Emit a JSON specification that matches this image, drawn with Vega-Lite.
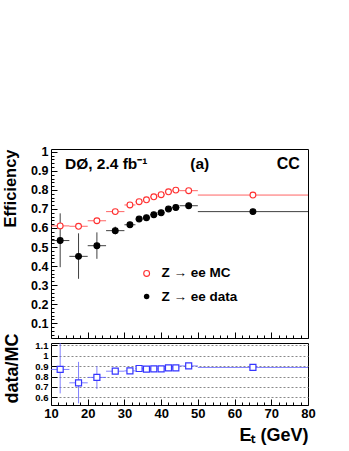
{
  "$schema": "https://vega.github.io/schema/vega-lite/v6.json",
  "padding": {"left": 2, "top": 145, "right": 0, "bottom": 0},
  "background": "white",
  "config": {
    "font": "Liberation Sans",
    "view": {"stroke": "black", "strokeWidth": 1},
    "axis": {"domain": false, "grid": false, "ticks": true, "tickColor": "black", "tickWidth": 1, "tickOpacity": 1, "labelOverlap": false, "labelFlush": false, "labelFont": "Liberation Sans", "labelFontWeight": "bold", "labelColor": "black", "titleFont": "Liberation Sans", "titleFontWeight": "bold", "titleColor": "black"},
    "text": {"font": "Liberation Sans", "fontWeight": "bold", "fill": "black"}
  },
  "spacing": 5,
  "bounds": "flush",
  "datasets": {
    "eff": [
      {"series": "Z → ee MC", "et": 12.5, "lo": 10, "hi": 15, "eff": 0.611},
      {"series": "Z → ee MC", "et": 17.5, "lo": 15, "hi": 20, "eff": 0.609},
      {"series": "Z → ee MC", "et": 22.5, "lo": 20, "hi": 25, "eff": 0.638},
      {"series": "Z → ee MC", "et": 27.5, "lo": 25, "hi": 30, "eff": 0.686},
      {"series": "Z → ee MC", "et": 31.5, "lo": 30, "hi": 33, "eff": 0.721},
      {"series": "Z → ee MC", "et": 34, "lo": 33, "hi": 35, "eff": 0.738},
      {"series": "Z → ee MC", "et": 36, "lo": 35, "hi": 37, "eff": 0.748},
      {"series": "Z → ee MC", "et": 38, "lo": 37, "hi": 39, "eff": 0.764},
      {"series": "Z → ee MC", "et": 40, "lo": 39, "hi": 41, "eff": 0.775},
      {"series": "Z → ee MC", "et": 42, "lo": 41, "hi": 43, "eff": 0.790},
      {"series": "Z → ee MC", "et": 44, "lo": 43, "hi": 45, "eff": 0.799},
      {"series": "Z → ee MC", "et": 47.5, "lo": 45, "hi": 50, "eff": 0.796},
      {"series": "Z → ee MC", "et": 65, "lo": 50, "hi": 80, "eff": 0.773},
      {"series": "Z → ee data", "et": 12.5, "lo": 10, "hi": 15, "eff": 0.534, "elo": 0.394, "ehi": 0.677},
      {"series": "Z → ee data", "et": 17.5, "lo": 15, "hi": 20, "eff": 0.451, "elo": 0.333, "ehi": 0.572},
      {"series": "Z → ee data", "et": 22.5, "lo": 20, "hi": 25, "eff": 0.507, "elo": 0.438, "ehi": 0.577},
      {"series": "Z → ee data", "et": 27.5, "lo": 25, "hi": 30, "eff": 0.586, "elo": 0.565, "ehi": 0.607},
      {"series": "Z → ee data", "et": 31.5, "lo": 30, "hi": 33, "eff": 0.617, "elo": 0.607, "ehi": 0.627},
      {"series": "Z → ee data", "et": 34, "lo": 33, "hi": 35, "eff": 0.647, "elo": 0.640, "ehi": 0.654},
      {"series": "Z → ee data", "et": 36, "lo": 35, "hi": 37, "eff": 0.654, "elo": 0.647, "ehi": 0.661},
      {"series": "Z → ee data", "et": 38, "lo": 37, "hi": 39, "eff": 0.670, "elo": 0.663, "ehi": 0.677},
      {"series": "Z → ee data", "et": 40, "lo": 39, "hi": 41, "eff": 0.680, "elo": 0.673, "ehi": 0.687},
      {"series": "Z → ee data", "et": 42, "lo": 41, "hi": 43, "eff": 0.700, "elo": 0.693, "ehi": 0.707},
      {"series": "Z → ee data", "et": 44, "lo": 43, "hi": 45, "eff": 0.708, "elo": 0.701, "ehi": 0.715},
      {"series": "Z → ee data", "et": 47.5, "lo": 45, "hi": 50, "eff": 0.717, "elo": 0.711, "ehi": 0.723},
      {"series": "Z → ee data", "et": 65, "lo": 50, "hi": 80, "eff": 0.686, "elo": 0.678, "ehi": 0.694}
    ],
    "ratio": [
      {"et": 12.5, "lo": 10, "hi": 15, "r": 0.869, "rlo": 0.638, "rhi": 1.25},
      {"et": 17.5, "lo": 15, "hi": 20, "r": 0.740, "rlo": 0.542, "rhi": 0.942},
      {"et": 22.5, "lo": 20, "hi": 25, "r": 0.792, "rlo": 0.680, "rhi": 0.900},
      {"et": 27.5, "lo": 25, "hi": 30, "r": 0.852, "rlo": 0.830, "rhi": 0.875},
      {"et": 31.5, "lo": 30, "hi": 33, "r": 0.855, "rlo": 0.845, "rhi": 0.865},
      {"et": 34, "lo": 33, "hi": 35, "r": 0.878, "rlo": 0.870, "rhi": 0.886},
      {"et": 36, "lo": 35, "hi": 37, "r": 0.872, "rlo": 0.865, "rhi": 0.880},
      {"et": 38, "lo": 37, "hi": 39, "r": 0.875, "rlo": 0.868, "rhi": 0.882},
      {"et": 40, "lo": 39, "hi": 41, "r": 0.875, "rlo": 0.868, "rhi": 0.882},
      {"et": 42, "lo": 41, "hi": 43, "r": 0.884, "rlo": 0.877, "rhi": 0.891},
      {"et": 44, "lo": 43, "hi": 45, "r": 0.884, "rlo": 0.877, "rhi": 0.891},
      {"et": 47.5, "lo": 45, "hi": 50, "r": 0.903, "rlo": 0.897, "rhi": 0.909},
      {"et": 65, "lo": 50, "hi": 80, "r": 0.888, "rlo": 0.880, "rhi": 0.896}
    ]
  },
  "vconcat": [
    {
      "width": 257,
      "height": 189,
      "layer": [
        {
          "data": {"name": "eff"},
          "mark": {"type": "rule", "strokeWidth": 1, "opacity": 0.75},
          "encoding": {
            "x": {"field": "lo", "type": "quantitative",
              "scale": {"domain": [10, 80], "nice": false, "zero": false},
              "axis": {"values": [10,12,14,16,18,20,22,24,26,28,30,32,34,36,38,40,42,44,46,48,50,52,54,56,58,60,62,64,66,68,70,72,74,76,78,80],
                "tickCount": 200, "labels": false, "title": null, "labelOverlap": false,
                "tickSize": {"condition": {"test": "datum.value % 10 == 0", "value": -6}, "value": -3}}},
            "x2": {"field": "hi"},
            "y": {"field": "eff", "type": "quantitative",
              "scale": {"domain": [0.022, 1.015], "nice": false, "zero": false},
              "axis": {"values": [0.04,0.06,0.08,0.1,0.12,0.14,0.16,0.18,0.2,0.22,0.24,0.26,0.28,0.3,0.32,0.34,0.36,0.38,0.4,0.42,0.44,0.46,0.48,0.5,0.52,0.54,0.56,0.58,0.6,0.62,0.64,0.66,0.68,0.7,0.72,0.74,0.76,0.78,0.8,0.82,0.84,0.86,0.88,0.9,0.92,0.94,0.96,0.98,1.0],
                "tickCount": 200,
                "labelExpr": "abs(datum.value*10 - round(datum.value*10)) < 0.001 ? format(datum.value, '.1~f') : ''",
                "labelOverlap": false, "labelFlush": false,
                "tickSize": {"condition": {"test": "abs(datum.value*10 - round(datum.value*10)) < 0.001", "value": -6}, "value": -3},
                "labelPadding": 9, "labelFontSize": 12.5,
                "title": "Efficiency", "titleFontSize": 16.5, "titleAnchor": "end", "titlePadding": 12}},
            "color": {"field": "series", "type": "nominal",
              "scale": {"domain": ["Z → ee MC", "Z → ee data"], "range": ["#ff3030", "#000000"]}, "legend": null}
          }
        },
        {
          "data": {"name": "eff"},
          "transform": [{"filter": "datum.series == 'Z → ee data'"}],
          "mark": {"type": "rule", "strokeWidth": 1, "opacity": 0.75},
          "encoding": {
            "x": {"field": "et", "type": "quantitative"},
            "y": {"field": "elo", "type": "quantitative"},
            "y2": {"field": "ehi"},
            "color": {"field": "series", "type": "nominal",
              "scale": {"domain": ["Z → ee MC", "Z → ee data"], "range": ["#ff3030", "#000000"]}, "legend": null}
          }
        },
        {
          "data": {"name": "eff"},
          "mark": {"type": "point", "shape": "circle", "size": 34, "strokeWidth": 1.1, "opacity": 1, "filled": false},
          "encoding": {
            "x": {"field": "et", "type": "quantitative"},
            "y": {"field": "eff", "type": "quantitative"},
            "stroke": {"field": "series", "type": "nominal",
              "scale": {"domain": ["Z → ee MC", "Z → ee data"], "range": ["#ff3030", "#000000"]}, "legend": null},
            "fill": {"field": "series", "type": "nominal",
              "scale": {"domain": ["Z → ee MC", "Z → ee data"], "range": ["#ffffff", "#000000"]}, "legend": null}
          }
        },
        {
          "data": {"values": [{"label": "Z → ee MC"}]},
          "mark": {"type": "point", "shape": "circle", "size": 34, "strokeWidth": 1.1, "filled": false, "stroke": "#ff3030", "fill": "#ffffff", "opacity": 1},
          "encoding": {
            "x": {"datum": 36.05, "type": "quantitative"},
            "y": {"datum": 0.361, "type": "quantitative"}
          }
        },
        {
          "data": {"values": [{"label": "Z → ee data"}]},
          "mark": {"type": "point", "shape": "circle", "size": 30, "filled": true, "color": "#000000", "opacity": 1},
          "encoding": {
            "x": {"datum": 36.05, "type": "quantitative"},
            "y": {"datum": 0.240, "type": "quantitative"}
          }
        },
        {
          "data": {"values": [{"label": "Z → ee MC"}]},
          "mark": {"type": "text", "align": "left", "baseline": "middle", "fontSize": 13.5},
          "encoding": {
            "x": {"datum": 40.1, "type": "quantitative"},
            "y": {"datum": 0.361, "type": "quantitative"},
            "text": {"field": "label"}
          }
        },
        {
          "data": {"values": [{"label": "Z → ee data"}]},
          "mark": {"type": "text", "align": "left", "baseline": "middle", "fontSize": 13.5},
          "encoding": {
            "x": {"datum": 40.1, "type": "quantitative"},
            "y": {"datum": 0.240, "type": "quantitative"},
            "text": {"field": "label"}
          }
        },
        {
          "data": {"values": [{"label": "DØ, 2.4 fb⁻¹"}]},
          "mark": {"type": "text", "align": "left", "baseline": "middle", "fontSize": 15.5},
          "encoding": {
            "x": {"datum": 13.8, "type": "quantitative"},
            "y": {"datum": 0.936, "type": "quantitative"},
            "text": {"field": "label"}
          }
        },
        {
          "data": {"values": [{"label": "(a)"}]},
          "mark": {"type": "text", "align": "center", "baseline": "middle", "fontSize": 15.5},
          "encoding": {
            "x": {"datum": 50.5, "type": "quantitative"},
            "y": {"datum": 0.936, "type": "quantitative"},
            "text": {"field": "label"}
          }
        },
        {
          "data": {"values": [{"label": "CC"}]},
          "mark": {"type": "text", "align": "right", "baseline": "middle", "fontSize": 16},
          "encoding": {
            "x": {"datum": 77.8, "type": "quantitative"},
            "y": {"datum": 0.936, "type": "quantitative"},
            "text": {"field": "label"}
          }
        }
      ]
    },
    {
      "width": 257,
      "height": 62,
      "data": {"name": "ratio"},
      "layer": [
        {
          "mark": {"type": "rule", "strokeWidth": 1, "color": "#6060ff", "opacity": 0.8},
          "encoding": {
            "x": {"field": "lo", "type": "quantitative",
              "scale": {"domain": [10, 80], "nice": false, "zero": false},
              "axis": {"values": [10,12,14,16,18,20,22,24,26,28,30,32,34,36,38,40,42,44,46,48,50,52,54,56,58,60,62,64,66,68,70,72,74,76,78,80],
                "tickCount": 200,
                "labelExpr": "datum.value % 10 == 0 ? format(datum.value, 'd') : ''",
                "labelOverlap": false, "labelFlush": false,
                "tickSize": {"condition": {"test": "datum.value % 10 == 0", "value": -6}, "value": -3},
                "labelPadding": 8, "labelFontSize": 13,
                "title": "Eₜ (GeV)", "titleFontSize": 18, "titleAnchor": "end", "titlePadding": 3}},
            "x2": {"field": "hi"},
            "y": {"field": "r", "type": "quantitative",
              "scale": {"domain": [0.526, 1.124], "nice": false, "zero": false},
              "axis": {"values": [0.6, 0.7, 0.8, 0.9, 1.0, 1.1],
                "tickCount": 200,
                "labelExpr": "format(datum.value, '.1~f')",
                "labelOverlap": false, "labelFlush": false,
                "tickSize": -6, "labelPadding": 9, "labelFontSize": 9.5,
                "grid": true, "gridDash": [2, 2], "gridColor": "#888888", "gridWidth": 1,
                "title": "data/MC", "titleFontSize": 18, "titleAnchor": "middle", "titleY": 25, "titlePadding": 13}}
          }
        },
        {
          "mark": {"type": "rule", "strokeWidth": 1, "color": "#6060ff", "opacity": 0.8, "clip": true},
          "encoding": {
            "x": {"field": "et", "type": "quantitative"},
            "y": {"field": "rlo", "type": "quantitative"},
            "y2": {"field": "rhi"}
          }
        },
        {
          "mark": {"type": "point", "shape": "square", "size": 36, "strokeWidth": 1.2, "filled": false, "stroke": "#3535ff", "fill": "#ffffff", "opacity": 1},
          "encoding": {
            "x": {"field": "et", "type": "quantitative"},
            "y": {"field": "r", "type": "quantitative"}
          }
        }
      ]
    }
  ]
}
